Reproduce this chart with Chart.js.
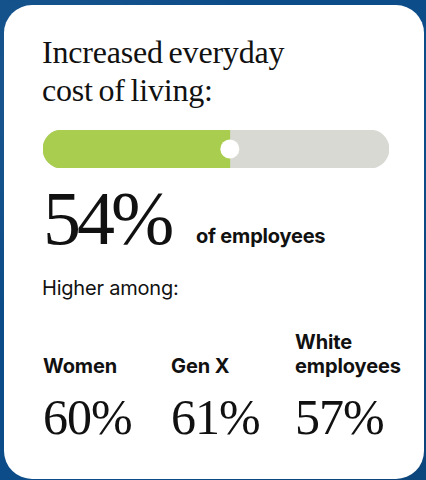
<!DOCTYPE html>
<html>
<head>
<meta charset="utf-8">
<script src="https://cdn.jsdelivr.net/npm/chart.js@4.4.1/dist/chart.umd.min.js"></script>
<style>
  html, body { margin: 0; padding: 0; }
  body {
    width: 426px; height: 480px; position: relative; overflow: hidden;
    background: #0c4c88;
    background-image:
      radial-gradient(circle at 10% 20%, rgba(255,255,255,0.06) 0, transparent 40%),
      radial-gradient(circle at 90% 85%, rgba(0,0,0,0.12) 0, transparent 45%);
  }
  .card {
    position: absolute; left: 4px; top: 5px; width: 420px; height: 474px;
    background: #fff; border-radius: 28px;
  }
  .abs { position: absolute; color: #111; white-space: nowrap; }
  .serif { font-family: "Liberation Serif", serif; }
  .sans { font-family: "Inter", sans-serif; }
  #title { left: 42px; top: 33px; font-size: 32px; line-height: 38px; letter-spacing: -0.2px; word-spacing: -2px; }
  #bigValue { left: 43px; top: 180px; font-size: 76px; line-height: 76px; letter-spacing: -4px; }
  #bigLabel { left: 196px; top: 224px; font-size: 20px; line-height: 24px; font-weight: 700; letter-spacing: -0.2px; }
  #higher { left: 42px; top: 276px; font-size: 20px; line-height: 24px; font-weight: 400; letter-spacing: -0.2px; }
  .grpLabel { bottom: 102px; font-size: 20px; line-height: 24px; font-weight: 700; letter-spacing: -0.1px; }
  .grpValue { top: 392px; font-size: 50px; line-height: 50px; letter-spacing: -1px; }
  #barWrap { position: absolute; left: 43px; top: 130px; width: 346px; height: 38px; }
</style>
</head>
<body>
<div class="card"></div>
<div id="title" class="abs serif">Increased everyday<br>cost of living:</div>
<div id="barWrap"><canvas id="progress"></canvas></div>
<div id="bigValue" class="abs serif"></div>
<div id="bigLabel" class="abs sans">of employees</div>
<div id="higher" class="abs sans">Higher among:</div>
<div id="groups"></div>

<script>
// overall share and the groups where it runs higher
const mainLabel = ['cost of living'];
const mainValue = [54];
const scaleMax = 100;
const groupNames = [['Women'], ['Gen X'], ['White', 'employees']];
const groupValues = [60, 61, 57];
const groupX = [43, 171, 295];

document.getElementById('bigValue').textContent = mainValue[0] + '%';

const groupsEl = document.getElementById('groups');
groupNames.forEach((lines, i) => {
  const lab = document.createElement('div');
  lab.className = 'abs sans grpLabel';
  lab.style.left = groupX[i] + 'px';
  lab.innerHTML = lines.join('<br>');
  groupsEl.appendChild(lab);

  const val = document.createElement('div');
  val.className = 'abs serif grpValue';
  val.style.left = groupX[i] + 'px';
  val.textContent = groupValues[i] + '%';
  groupsEl.appendChild(val);
});

new Chart(document.getElementById('progress'), {
  type: 'bar',
  data: {
    labels: mainLabel,
    datasets: [
      {
        // white knob sitting at the end of the filled part
        type: 'line',
        indexAxis: 'y',
        data: mainValue,
        showLine: false,
        pointRadius: 9.5,
        pointHoverRadius: 9.5,
        pointBackgroundColor: '#ffffff',
        pointBorderWidth: 0,
        clip: false,
        order: 0
      },
      {
        data: mainValue,
        backgroundColor: '#a9ce4f',
        borderRadius: { topLeft: 19, bottomLeft: 19, topRight: 0, bottomRight: 0 },
        borderSkipped: false,
        order: 1
      },
      {
        // full-width track behind
        data: mainValue.map(() => scaleMax),
        backgroundColor: '#d9d9d4',
        borderRadius: 19,
        borderSkipped: false,
        order: 2
      }
    ]
  },
  options: {
    indexAxis: 'y',
    responsive: true,
    maintainAspectRatio: false,
    animation: false,
    layout: { padding: 0, autoPadding: false },
    datasets: { bar: { grouped: false, barPercentage: 1, categoryPercentage: 1 } },
    plugins: { legend: { display: false }, tooltip: { enabled: false } },
    events: [],
    scales: {
      x: { display: false, min: 0, max: scaleMax },
      y: { display: false }
    }
  }
});
</script>
</body>
</html>
